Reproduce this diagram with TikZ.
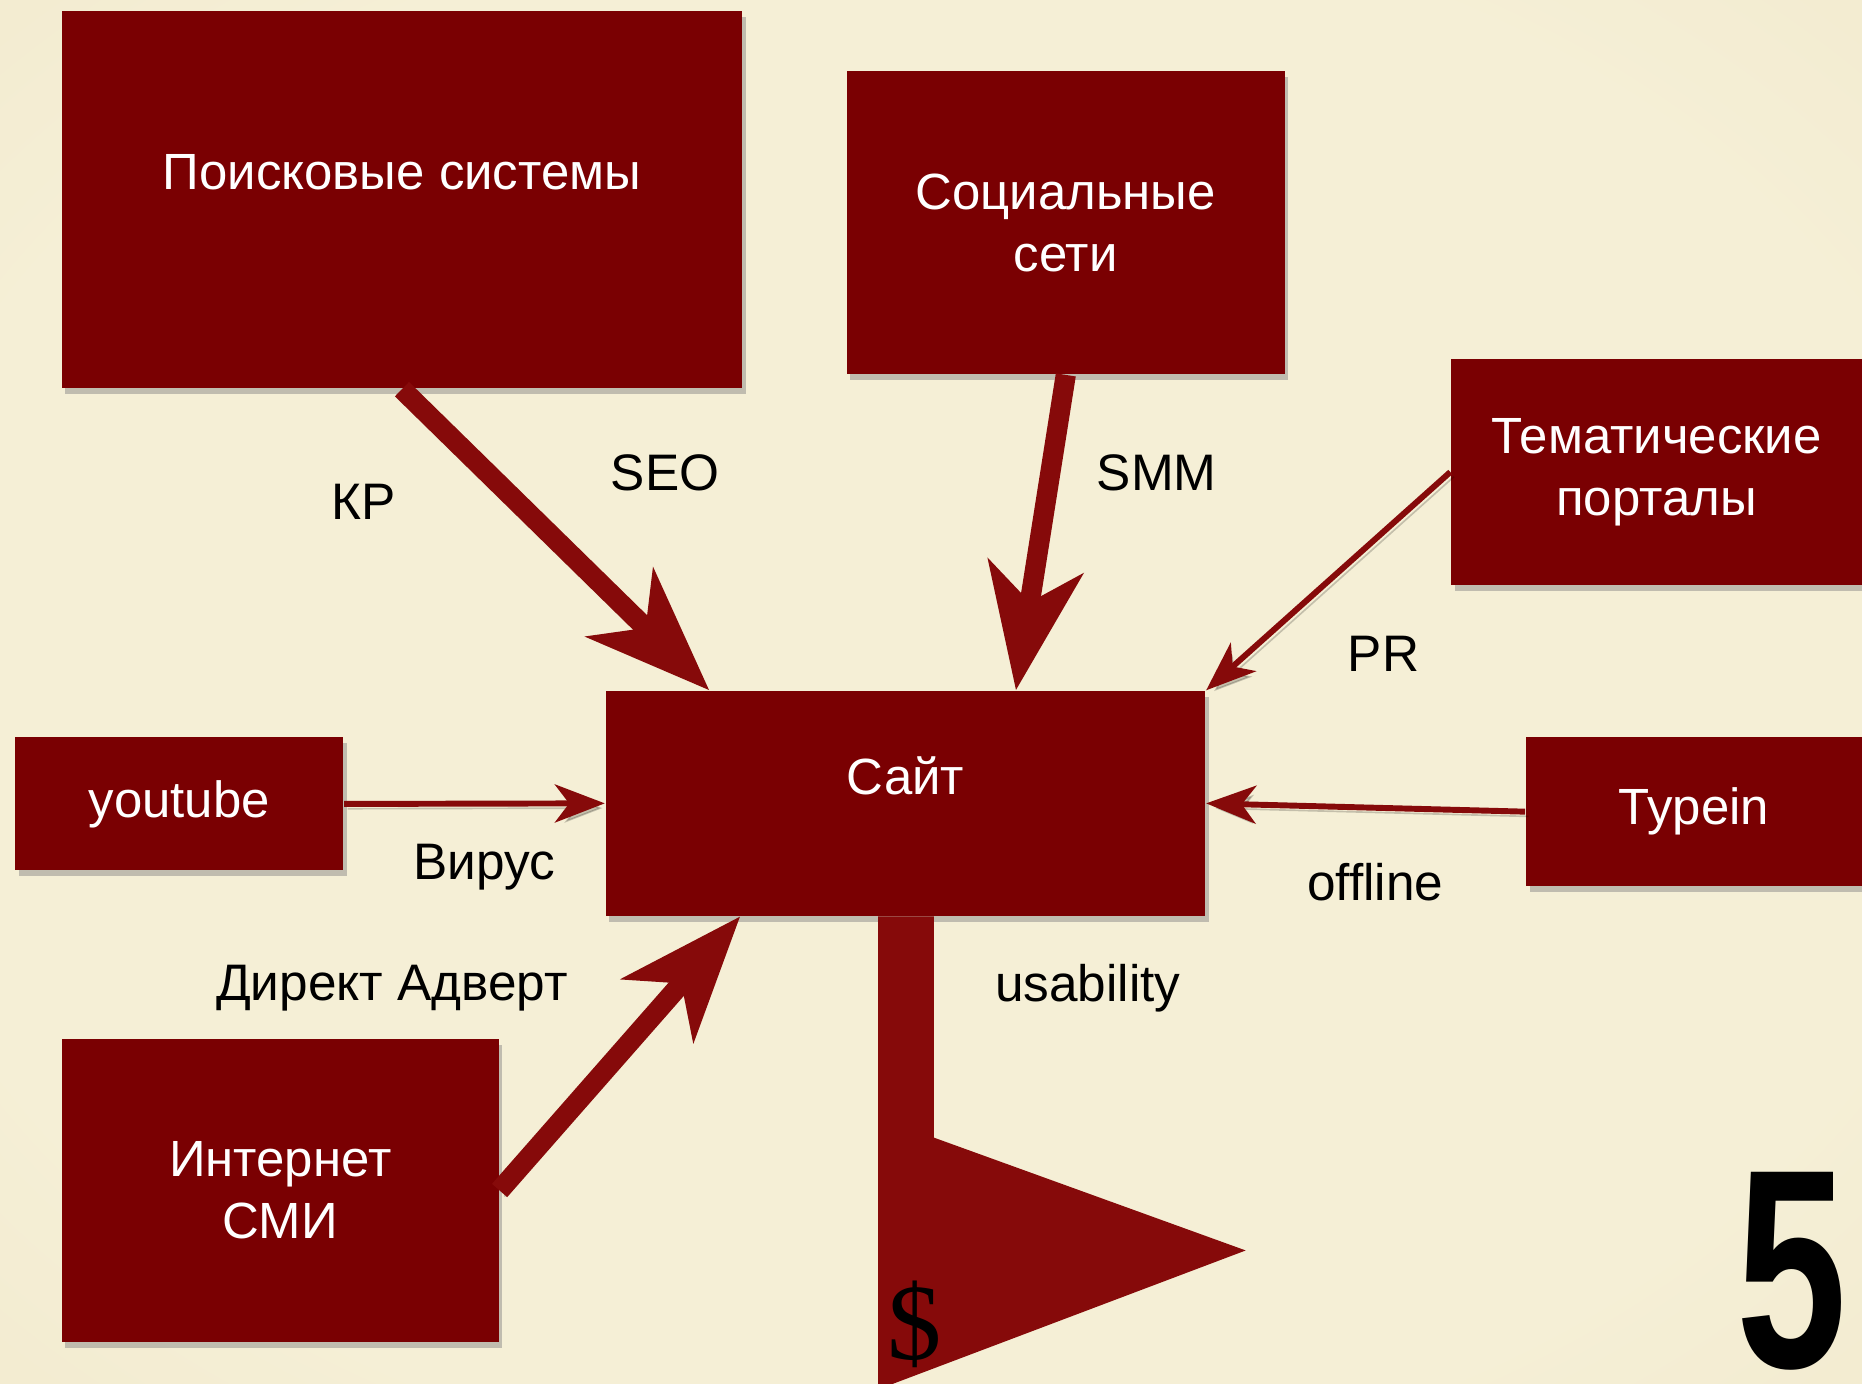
\documentclass[tikz,border=0pt]{standalone}
\usepackage{fontspec}
\setmainfont{Liberation Sans}
\newfontfamily\dollarfont{Liberation Serif}
\usepackage{tikz}
\usetikzlibrary{arrows.meta, calc, shadows}
\definecolor{boxred}{RGB}{122,0,2}
\definecolor{arrowred}{RGB}{134,10,10}
\definecolor{bgin}{RGB}{245,239,214}
\definecolor{bgmid}{RGB}{238,229,198}
\definecolor{bgout}{RGB}{218,202,160}
\pgfdeclareradialshading{parchment}{\pgfpoint{0bp}{0bp}}{color(0bp)=(bgin); color(28bp)=(bgin); color(50bp)=(bgmid); color(72bp)=(bgout)}

\begin{document}
\begin{tikzpicture}[
                box/.style={fill=boxred, text=white, align=center, inner sep=0pt, font=\fontsize{12.2}{14.8}\selectfont, drop shadow={shadow xshift=0.03cm, shadow yshift=-0.05cm, opacity=0.45}},
                lbl/.style={text=black, font=\fontsize{12.3}{14.8}\selectfont},
                bigarrow/.style={draw=arrowred, line width=0.17cm, -{Stealth[length=1.05cm, width=0.8cm, inset=0.3cm]}, preaction={draw=black, opacity=0.2, transform canvas={xshift=0.04cm, yshift=-0.05cm}}},
                thinarrow/.style={draw=arrowred, line width=0.05cm, -{Stealth[length=0.42cm, width=0.32cm, inset=0.12cm]}, preaction={draw=black, opacity=0.2, transform canvas={xshift=0.03cm, yshift=-0.04cm}}},
                ]
                \useasboundingbox (0,0) rectangle (15.68,11.65);
                \clip (0,0) rectangle (15.68,11.65);
                \shade[shading=parchment] (0,0) rectangle (15.68,11.65);
                \node[box, minimum width=5.73cm, minimum height=3.18cm, text depth=0.46cm] (search) at (3.385,9.97) {Поисковые системы};
                \node[box, minimum width=3.69cm, minimum height=2.55cm] (social) at (8.975,9.775) {Социальные\\сети};
                \node[box, minimum width=3.46cm, minimum height=1.91cm] (portals) at (13.95,7.675) {Тематические\\порталы};
                \node[box, minimum width=5.05cm, minimum height=1.89cm, text depth=0.46cm] (site) at (7.625,4.885) {Сайт};
                \node[box, minimum width=2.76cm, minimum height=1.12cm] (youtube) at (1.51,4.88) {youtube};
                \node[box, minimum width=2.83cm, minimum height=1.25cm] (typein) at (14.265,4.815) {Typein};
                \node[box, minimum width=3.68cm, minimum height=2.55cm] (smi) at (2.36,1.625) {Интернет\\СМИ};
                \fill[arrowred] ([xshift=-0.23cm]site.south) -- ([xshift=0.24cm]site.south) -- (7.865,2.07) -- (10.49,1.12) -- (7.395,-0.05) -- cycle;
                \draw[bigarrow] (search.south) -- ([xshift=0.88cm]site.north west);
                \draw[bigarrow] (social.south) -- ([xshift=0.93cm]site.north);
                \draw[bigarrow] (smi.east) -- ([xshift=1.14cm]site.south west);
                \draw[thinarrow] (portals.west) -- (site.north east);
                \draw[thinarrow] (youtube.east) -- (site.west);
                \draw[thinarrow] (typein.west) -- (site.east);
                \node[lbl] (kp) at (3.06,7.42) {КР};
                \node[lbl] (seo) at (5.60,7.67) {SEO};
                \node[lbl] (smm) at (9.74,7.67) {SMM};
                \node[lbl] (pr) at (11.65,6.14) {PR};
                \node[lbl] (virus) at (4.08,4.35) {Вирус};
                \node[lbl] (offline) at (11.58,4.22) {offline};
                \node[lbl] (direct) at (3.30,3.33) {Директ Адверт};
                \node[lbl] (usability) at (9.16,3.33) {usability};
                \node[text=black, font=\dollarfont\fontsize{26}{26}\selectfont] (dollar) at (7.70,0.50) {\$};
                \node[anchor=south west, inner sep=0pt, text=black, font=\bfseries\fontsize{68}{68}\selectfont] (five) at (14.62,0.10) {\scalebox{0.70}[1]{5}};
            \end{tikzpicture}
\end{document}
